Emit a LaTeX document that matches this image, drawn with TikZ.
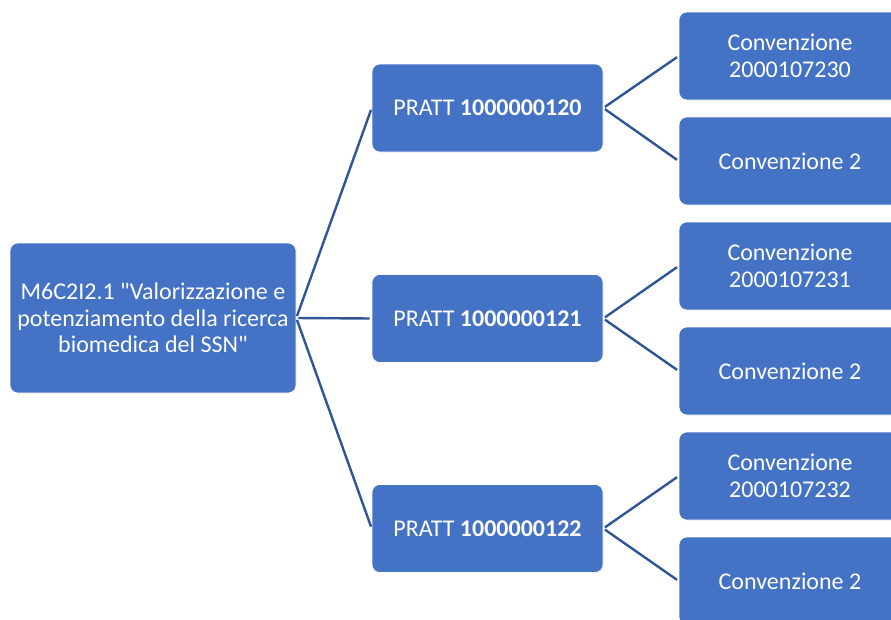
\documentclass[tikz,border=0pt]{standalone}
\usepackage{fontspec}
\setmainfont{Carlito}[Ligatures=TeXOff]
\definecolor{boxblue}{HTML}{4472C4}
\definecolor{linkblue}{HTML}{2F5597}
\tikzset{
  box/.style={rectangle, rounded corners=8pt, fill=boxblue, draw=white, line width=0.6pt,
    text=white, align=center, font=\fontsize{24}{26.5}\selectfont, inner sep=0pt},
  link/.style={draw=linkblue, line width=2.4pt, shorten <=2pt, shorten >=2pt}
}
\begin{document}
\begin{tikzpicture}[x=1pt,y=1pt]
\useasboundingbox (0,0) rectangle (891,-619);
\clip (0,0) rectangle (891,-619);
\node[box, minimum width=286pt, minimum height=150pt] (root) at (153,-318) {M6C2I2.1 "Valorizzazione e\\potenziamento della ricerca\\biomedica del SSN"};
\node[box, minimum width=231pt, minimum height=88pt] (p1) at (487.5,-108) {PRATT \textbf{1000000120}};
\node[box, minimum width=231pt, minimum height=88pt] (p2) at (487.5,-318.5) {PRATT \textbf{1000000121}};
\node[box, minimum width=231pt, minimum height=88pt] (p3) at (487.5,-528.5) {PRATT \textbf{1000000122}};
\node[box, minimum width=222pt, minimum height=88pt] (c1) at (790,-56) {Convenzione\\2000107230};
\node[box, minimum width=222pt, minimum height=88pt] (c2) at (790,-161) {Convenzione 2};
\node[box, minimum width=222pt, minimum height=88pt] (c3) at (790,-266) {Convenzione\\2000107231};
\node[box, minimum width=222pt, minimum height=88pt] (c4) at (790,-371) {Convenzione 2};
\node[box, minimum width=222pt, minimum height=88pt] (c5) at (790,-476) {Convenzione\\2000107232};
\node[box, minimum width=222pt, minimum height=88pt] (c6) at (790,-581) {Convenzione 2};
\foreach \p in {p1,p2,p3}
  \draw[link] (root.east) -- (\p.west);
\draw[link] (p1.east) -- (c1.west);
\draw[link] (p1.east) -- (c2.west);
\draw[link] (p2.east) -- (c3.west);
\draw[link] (p2.east) -- (c4.west);
\draw[link] (p3.east) -- (c5.west);
\draw[link] (p3.east) -- (c6.west);
\end{tikzpicture}
\end{document}
